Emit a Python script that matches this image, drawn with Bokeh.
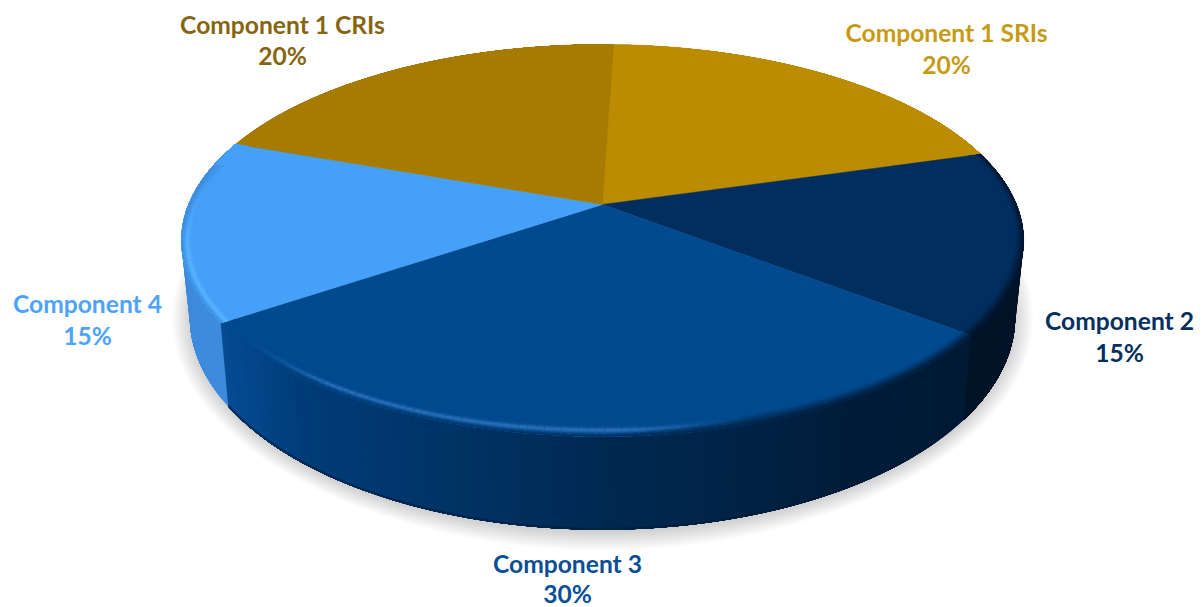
import numpy as np
from bokeh.plotting import figure
from bokeh.models import Range1d
from bokeh.core.properties import value
from bokeh.embed import file_html
from bokeh.resources import INLINE

# data (clockwise from the top)
LABELS = ["Component 1 SRIs", "Component 2", "Component 3", "Component 4", "Component 1 CRIs"]
SHARES = [20, 15, 30, 15, 20]
TOP_COLORS = ["#BC8C00", "#002F5F", "#024A8E", "#45A0F8", "#A67B00"]
TEXT_COLORS = ["#C79A14", "#04305F", "#0A4F96", "#4DA3FA", "#876510"]
LABEL_X = [946, 1119, 567, 87, 282]
LABEL_Y = [32, 320, 563, 303, 24]
SHARE_Y = [64, 352, 593, 335, 55]

# geometry of the tilted pie, in page pixels
CX, CY, RX, RY, K = 602.0, 204.0, 414.0, 189.4, 0.1837
START = 1.8
SX, SY, DY = 0.98, 1.087, 73.0
PAGE_W, PAGE_H = 1204, 607

def top(theta):
    t = np.radians(theta)
    w = 1 + K * np.cos(t)
    return CX + RX * np.sin(t) / w, CY - RY * np.cos(t) / w

def bottom(theta):
    t = np.radians(theta)
    w = 1 + K * np.cos(t)
    return CX + SX * RX * np.sin(t) / w, CY + DY - SY * RY * np.cos(t) / w

def rgb(h):
    return np.array([int(h[i:i + 2], 16) for i in (1, 3, 5)], float)

def mix(a, b, f):
    c = rgb(a) * (1 - f) + rgb(b) * f
    return "#%02x%02x%02x" % tuple(int(round(v)) for v in c)

def ramp(x, stops, cols):
    x = float(np.clip(x, stops[0], stops[-1]))
    i = min(int(np.searchsorted(stops, x, side="right")) - 1, len(stops) - 2)
    return mix(cols[i], cols[i + 1], (x - stops[i]) / (stops[i + 1] - stops[i]))

p = figure(width=PAGE_W, height=PAGE_H, output_backend="svg", toolbar_location=None,
           x_range=Range1d(0, PAGE_W), y_range=Range1d(PAGE_H, 0),
           min_border=0, outline_line_color=None, background_fill_color="white",
           border_fill_color="white")
p.axis.visible = False
p.grid.visible = False

edges = START + np.cumsum([0] + SHARES) * 3.6

# soft shadow
th = np.linspace(0, 360, 241)
bx, by = bottom(th)
ox, oy = CX, CY + DY + 36
dist = np.hypot(bx - ox, by - oy)
sx_list, sy_list = [], []
for e in np.linspace(18, 0, 15):
    sx_list.append(list(bx + e * (bx - ox) / dist))
    sy_list.append(list(by + (e + 1) * (by - oy) / dist + 2))
p.patches(sx_list, sy_list, fill_color="#000000", fill_alpha=0.013, line_color=None)

# side wall: overlapping strips, painted in order, leave no seams
SIDE_STOPS = [220, 300, 400, 500, 600, 720, 850, 970]
SIDE_COLS = ["#054C94", "#003C77", "#00366C", "#00305F", "#002952", "#002447", "#001C39", "#001A33"]
for i in range(5):
    a0, a1 = edges[i], edges[i + 1]
    n = max(int(a1 - a0), 2)
    g = np.linspace(a0, a1, n + 1)
    xs, ys, cols = [], [], []
    for a in g[:-1]:
        tx, ty = top(np.linspace(a, a1, 30))
        ux, uy = bottom(np.linspace(a1, a, 30))
        xs.append(list(tx) + list(ux))
        ys.append(list(ty) + list(uy))
        mx = top(a + (a1 - a0) / n / 2)[0]
        if i == 2:
            cols.append(ramp(mx, SIDE_STOPS, SIDE_COLS))
        elif i == 1:
            cols.append("#001327")
        elif i == 3:
            cols.append("#3D8BDC")
        else:
            cols.append(TOP_COLORS[i])
    p.patches(xs, ys, fill_color=cols, line_color=None)

# darker lower edge of the wall
g = np.linspace(edges[2], edges[3], 110)
lx, ly = bottom(g)
p.line(lx, ly - 1, line_color="#001A38", line_width=2, line_alpha=0.55)

# top face
fx, fy = [], []
for i in range(5):
    g = np.linspace(edges[i], edges[i + 1], 90)
    tx, ty = top(g)
    fx.append([CX] + list(tx))
    fy.append([CY] + list(ty))
p.patches(fx, fy, fill_color=TOP_COLORS, line_color=TOP_COLORS, line_width=0.5)

# rounded rim of the top face
def rim(theta, d):
    x, y = top(theta)
    L = np.hypot(x - CX, y - CY)
    return x - d * (x - CX) / L, y - d * (y - CY) / L

BAND = 15.0
TS = np.linspace(0, 1, 13)
for i, base, lite in [(1, "#002F5F", "#002F5F"), (2, "#024A8E", "#2A6FB8"), (3, "#45A0F8", "#58B4FF")]:
    a0, a1 = edges[i], edges[i + 1]
    n = int(a1 - a0)
    g = np.linspace(a0, a1, n + 1)
    xs, ys, cols = [], [], []
    for a, b in zip(g[:-1], g[1:]):
        mid = (a + b) / 2
        mx, _ = top(mid)
        if i == 2:
            L = float(np.clip((mx - 235) / 90, 0, 1) * np.clip((760 - mx) / 140, 0, 1))
            side = ramp(mx, SIDE_STOPS, SIDE_COLS)
            lo = 0.0
        elif i == 1:
            L = 0.0
            side = "#001327"
            lo = float(np.clip((mid - 60) / 60, 0.45, 1))
        else:
            L = float(np.clip((280 - mid) / 25, 0, 1))
            side = "#3D8BDC"
            lo = 0.0
        wall_vis = mid < 283
        b2 = min(b + 0.5, a1)
        for t0 in TS[:-1]:
            tm = t0 + (TS[1] - TS[0]) / 2
            hl = L * np.exp(-((tm - 0.58) / 0.16) ** 2)
            start = 0.25 + 0.5 * L
            if i == 1:
                start = max(0.3, 0.85 - 0.6 * lo)
            s = np.clip((tm - start) / (1 - start), 0, 1) if wall_vis else 0.0
            c = mix(mix(base, lite, hl), side, s)
            ax, ay = rim(np.array([a, b2]), BAND * (1 - t0))
            cx2, cy2 = top(np.array([b2, a]))
            xs.append(list(ax) + list(cx2))
            ys.append(list(ay) + list(cy2))
            cols.append(c)
    p.patches(xs, ys, fill_color=cols, line_color=None)

# labels
FONT = value("Lato")
for name, share, col, x, y, y2 in zip(LABELS, SHARES, TEXT_COLORS, LABEL_X, LABEL_Y, SHARE_Y):
    p.text([x], [y], text=[name], text_color=col, text_font=FONT, text_font_size="24.6px",
           text_font_style="bold", text_align="center", text_baseline="middle")
    p.text([x], [y2], text=[f"{share}%"], text_color=col, text_font=FONT, text_font_size="24.6px",
           text_font_style="bold", text_align="center", text_baseline="middle")

open("out.html", "w").write(file_html(p, INLINE))
